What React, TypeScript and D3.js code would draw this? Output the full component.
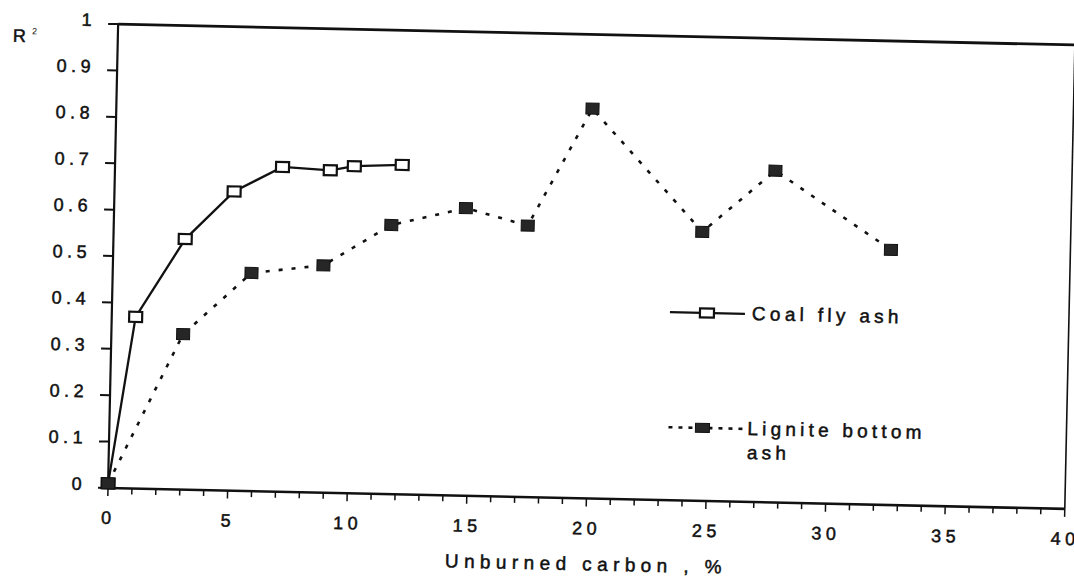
import { useEffect, useRef } from "react";
import * as d3 from "d3";

// Coal fly ash (open squares, solid line)
const coalX = [0, 1.0, 3.0, 5.0, 7.0, 9.0, 10.0, 12.0];
const coalY = [0.01, 0.37, 0.54, 0.645, 0.7, 0.695, 0.705, 0.71];

// Lignite bottom ash (filled squares, dotted line)
const ligniteX = [0, 3.0, 5.8, 8.8, 11.6, 14.7, 17.3, 19.9, 24.6, 27.6, 32.5];
const ligniteY = [0.01, 0.335, 0.47, 0.49, 0.58, 0.62, 0.585, 0.84, 0.58, 0.715, 0.55];

const xTicks = [0, 5, 10, 15, 20, 25, 30, 35, 40];
const xTickLabels = ["0", "5", "10", "15", "20", "25", "30", "35", "40"];
const yTicks = [0, 0.1, 0.2, 0.3, 0.4, 0.5, 0.6, 0.7, 0.8, 0.9, 1];
const yTickLabels = ["0", "0.1", "0.2", "0.3", "0.4", "0.5", "0.6", "0.7", "0.8", "0.9", "1"];

const xTitle = "Unburned carbon , %";
const coalName = "Coal fly ash";
const ligniteName = ["Lignite bottom", "ash"];

type Pt = { x: number; y: number };

export default function App() {
  const ref = useRef<SVGSVGElement | null>(null);

  useEffect(() => {
    if (!ref.current) return;

    const width = 1074;
    const height = 578;
    const margin = { top: 24, right: 9, bottom: 90, left: 108 };

    const svg = d3.select(ref.current)
      .attr("width", width)
      .attr("height", height)
      .attr("viewBox", `0 0 ${width} ${height}`);

    svg.selectAll("*").remove();

    const x = d3.scaleLinear().domain([0, 40]).range([margin.left, width - margin.right]);
    const y = d3.scaleLinear().domain([0, 1]).range([height - margin.bottom, margin.top]);
    const x0 = x(0), x1 = x(40), y0 = y(0), y1 = y(1);

    // the scan is tilted a little clockwise
    const g = svg.append("g")
      .attr("transform", `rotate(1.25,${x0},${y0})`)
      .style("font-family", "'Liberation Sans', Arial, Helvetica, sans-serif")
      .attr("fill", "#111");

    // scanned text looks heavier than plain regular
    const ink = (sel: d3.Selection<SVGTextElement, any, any, any>) =>
      sel.attr("stroke", "#111").attr("stroke-width", 0.5);

    /* ---------------- FRAME ---------------- */

    g.append("line").attr("x1", x0).attr("x2", x1).attr("y1", y1).attr("y2", y1)
      .attr("stroke", "#111").attr("stroke-width", 2.8);
    g.append("line").attr("x1", x1).attr("x2", x1).attr("y1", y1).attr("y2", y0)
      .attr("stroke", "#111").attr("stroke-width", 1.6);
    g.append("line").attr("x1", x0).attr("x2", x0).attr("y1", y1).attr("y2", y0)
      .attr("stroke", "#111").attr("stroke-width", 2.2);
    g.append("line").attr("x1", x0).attr("x2", x1).attr("y1", y0).attr("y2", y0)
      .attr("stroke", "#111").attr("stroke-width", 2.6);

    /* ---------------- Y AXIS ---------------- */

    g.selectAll(".ytick")
      .data(yTicks)
      .enter()
      .append("line")
      .attr("x1", x0 - 10).attr("x2", x0)
      .attr("y1", d => y(d)).attr("y2", d => y(d))
      .attr("stroke", "#111").attr("stroke-width", 2);

    g.selectAll(".ylab")
      .data(yTicks)
      .enter()
      .append("text")
      .attr("x", x0 - 22)
      .attr("y", d => y(d) + 2.5)
      .attr("text-anchor", "end")
      .attr("font-size", 18)
      .attr("letter-spacing", 4.5)
      .call(ink)
      .text((_, i) => yTickLabels[i]);

    g.append("text").attr("x", 3).attr("y", 44).attr("font-size", 18).call(ink).text("R");
    g.append("text").attr("x", 22).attr("y", 36).attr("font-size", 9).text("2");

    /* ---------------- X AXIS ---------------- */

    g.selectAll(".xtick")
      .data(d3.range(0, 41))
      .enter()
      .append("line")
      .attr("x1", d => x(d)).attr("x2", d => x(d))
      .attr("y1", y0).attr("y2", d => y0 + (d % 5 === 0 ? 8 : 6))
      .attr("stroke", "#111").attr("stroke-width", 1.5);

    g.selectAll(".xlab")
      .data(xTicks)
      .enter()
      .append("text")
      .attr("x", d => x(d) + 1)
      .attr("y", y0 + 36)
      .attr("text-anchor", "middle")
      .attr("font-size", 18)
      .attr("letter-spacing", 4.5)
      .call(ink)
      .text((_, i) => xTickLabels[i]);

    g.append("text")
      .attr("x", x(20) + 1)
      .attr("y", y0 + 72)
      .attr("text-anchor", "middle")
      .attr("font-size", 19)
      .attr("letter-spacing", 5.4)
      .call(ink)
      .text(xTitle);

    /* ---------------- SERIES ---------------- */

    const coal: Pt[] = coalX.map((v, i) => ({ x: v, y: coalY[i] }));
    const lignite: Pt[] = ligniteX.map((v, i) => ({ x: v, y: ligniteY[i] }));

    const line = d3.line<Pt>().x(d => x(d.x)).y(d => y(d.y));

    g.append("path")
      .datum(coal)
      .attr("fill", "none")
      .attr("stroke", "#111")
      .attr("stroke-width", 2.3)
      .attr("d", line);

    g.selectAll(".coal")
      .data(coal)
      .enter()
      .append("rect")
      .attr("x", d => x(d.x) - 6.5)
      .attr("y", d => y(d.y) - 5)
      .attr("width", 13)
      .attr("height", 10)
      .attr("fill", "#fff")
      .attr("stroke", "#111")
      .attr("stroke-width", 2.2);

    g.append("path")
      .datum(lignite)
      .attr("fill", "none")
      .attr("stroke", "#111")
      .attr("stroke-width", 2.6)
      .attr("stroke-dasharray", "4 9")
      .attr("d", line);

    g.selectAll(".lig")
      .data(lignite)
      .enter()
      .append("rect")
      .attr("x", d => x(d.x) - 6.5)
      .attr("y", d => y(d.y) - 5.5)
      .attr("width", 13)
      .attr("height", 11)
      .attr("fill", "#262626")
      .attr("stroke", "#111")
      .attr("stroke-width", 1);

    /* ---------------- LEGEND ---------------- */

    const lg = g.append("g");

    lg.append("line").attr("x1", 666).attr("x2", 741).attr("y1", 300).attr("y2", 300)
      .attr("stroke", "#111").attr("stroke-width", 2.3);
    lg.append("rect").attr("x", 696).attr("y", 295.5).attr("width", 14).attr("height", 9)
      .attr("fill", "#fff").attr("stroke", "#111").attr("stroke-width", 2.2);
    lg.append("text").attr("x", 748).attr("y", 306)
      .attr("font-size", 19).attr("letter-spacing", 4.3).call(ink).text(coalName);

    lg.append("line").attr("x1", 667).attr("x2", 744).attr("y1", 415).attr("y2", 415)
      .attr("stroke", "#111").attr("stroke-width", 2.6).attr("stroke-dasharray", "4 6");
    lg.append("rect").attr("x", 694).attr("y", 410.5).attr("width", 14).attr("height", 9)
      .attr("fill", "#262626").attr("stroke", "#111").attr("stroke-width", 1);
    const lt = lg.append("text").attr("x", 746).attr("y", 421)
      .attr("font-size", 19).attr("letter-spacing", 4.2).call(ink);
    lt.append("tspan").attr("x", 746).text(ligniteName[0]);
    lt.append("tspan").attr("x", 746).attr("dy", 24).text(ligniteName[1]);
  }, []);

  return (
    <svg
      ref={ref}
      style={{ position: "absolute", left: 0, top: 0, display: "block", background: "#fff" }}
    />
  );
}
